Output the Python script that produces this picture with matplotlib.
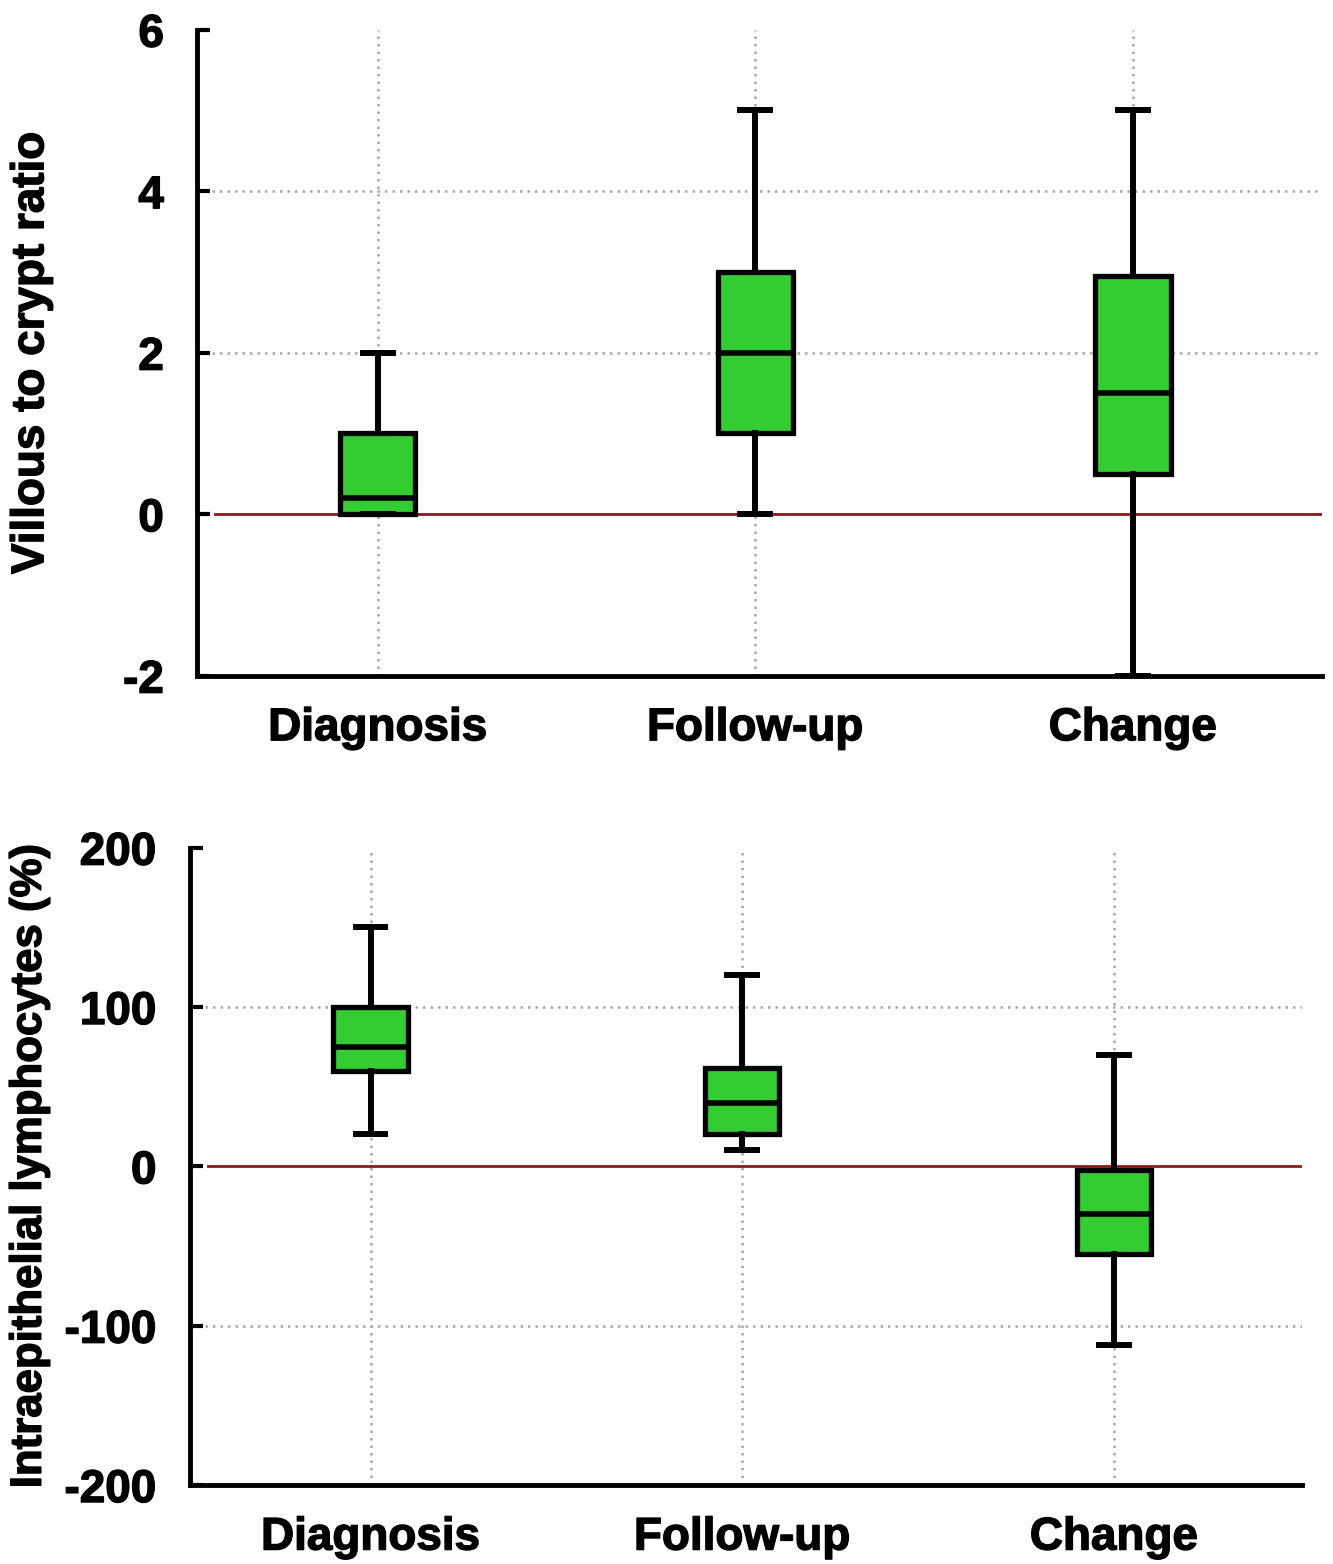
import matplotlib
matplotlib.use("Agg")
import matplotlib.pyplot as plt
import matplotlib.patheffects as pe

plt.rcParams['font.family'] = ['Liberation Sans', 'DejaVu Sans']
plt.rcParams['font.weight'] = 'bold'

categories = ["Diagnosis", "Follow-up", "Change"]

# villous to crypt ratio
vc_low = [0, 0, -2]
vc_q1 = [0, 1, 0.5]
vc_med = [0.2, 2, 1.5]
vc_q3 = [1, 3, 2.95]
vc_high = [2, 5, 5]

# intraepithelial lymphocytes (%)
iel_low = [20, 10, -112]
iel_q1 = [60, 20, -55]
iel_med = [75, 40, -30]
iel_q3 = [100, 62, -2]
iel_high = [150, 120, 70]

GREEN = "#33cc33"
heavy = [pe.withStroke(linewidth=1.0, foreground="black")]


def draw_panel(ax, lo, q1, med, q3, hi, yticks, ylabel, xlim, ysize, labx):
    stats = []
    for i in range(len(categories)):
        stats.append(dict(whislo=lo[i], q1=q1[i], med=med[i], q3=q3[i],
                          whishi=hi[i], fliers=[], label=categories[i]))
    # grid first so the boxes cover it
    for y in yticks[1:-1]:
        if y != 0:
            ax.axhline(y, color="#a8a8a8", lw=1.8, ls=(0, (1, 2)), zorder=0)
    for x in range(1, len(categories) + 1):
        ax.axvline(x, color="#a8a8a8", lw=1.8, ls=(0, (1, 2)), zorder=0)
    ax.axhline(0, xmin=0.016, color="#8b1a1a", lw=2, zorder=1)
    ax.bxp(stats, positions=[1, 2, 3], widths=0.2, patch_artist=True,
           showfliers=False, capwidths=0.08,
           boxprops=dict(facecolor=GREEN, edgecolor="black", linewidth=3.8),
           medianprops=dict(color="black", linewidth=4),
           whiskerprops=dict(color="black", linewidth=4.3),
           capprops=dict(color="black", linewidth=4.3))
    ax.set_xlim(*xlim)
    ax.set_ylim(yticks[0], yticks[-1])
    ax.set_yticks(yticks)
    ax.set_yticklabels([str(t) for t in yticks], fontsize=33, fontweight="bold",
                       path_effects=heavy)
    ax.set_xticklabels(categories, fontsize=33, fontweight="bold",
                       path_effects=heavy)
    ax.tick_params(axis="x", length=0, pad=22)
    ax.tick_params(axis="y", direction="in", length=9, width=3, pad=24)
    for s in ["top", "right"]:
        ax.spines[s].set_visible(False)
    for s in ["left", "bottom"]:
        ax.spines[s].set_linewidth(3.5)
    ax.set_ylabel(ylabel, fontsize=ysize, fontweight="bold", path_effects=heavy)
    ax.yaxis.set_label_coords(labx, 0.5)


fig = plt.figure(figsize=(13.33, 15.64), dpi=100)
ax1 = fig.add_axes([0.148, 0.568, 0.844, 0.413])
ax2 = fig.add_axes([0.1425, 0.0505, 0.8345, 0.4075])

draw_panel(ax1, vc_low, vc_q1, vc_med, vc_q3, vc_high,
           [-2, 0, 2, 4, 6], "Villous to crypt ratio",
           (0.522, 3.502), 33, -0.128)
draw_panel(ax2, iel_low, iel_q1, iel_med, iel_q3, iel_high,
           [-200, -100, 0, 100, 200], "Intraepithelial lymphocytes (%)",
           (0.514, 3.507), 31.5, -0.126)

fig.savefig("out.png", dpi=100)
